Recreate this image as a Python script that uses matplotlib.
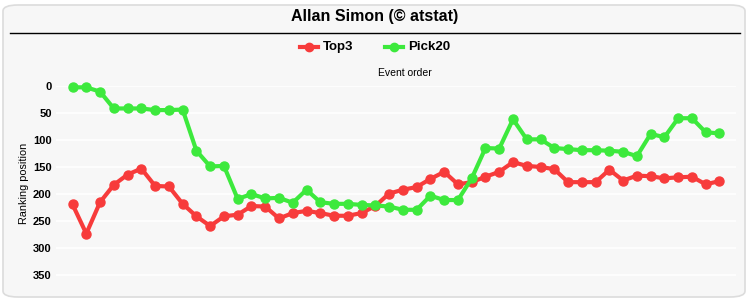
import matplotlib
matplotlib.use("Agg")
import matplotlib.pyplot as plt
from matplotlib.patches import FancyBboxPatch
from matplotlib.lines import Line2D

title = "Allan Simon (© atstat)"
series_names = ["Top3", "Pick20"]
events = list(range(1, 49))
top3 = [219, 273, 215, 183, 164, 153, 185, 186, 218, 241, 259, 241, 238, 222, 223, 245,
        235, 231, 235, 240, 240, 235, 222, 199, 192, 187, 172, 159, 182, 178, 168, 159,
        141, 148, 150, 154, 178, 178, 178, 155, 175, 166, 167, 171, 169, 168, 182, 176]
pick20 = [3, 3, 11, 42, 42, 42, 45, 45, 44, 120, 149, 148, 209, 200, 208, 207,
          216, 192, 215, 218, 218, 220, 221, 223, 229, 229, 203, 211, 211, 171, 115, 116,
          62, 99, 99, 115, 117, 119, 119, 120, 122, 130, 89, 95, 60, 60, 86, 88]
yticks = [0, 50, 100, 150, 200, 250, 300, 350]

RED = "#f73b3b"
GREEN = "#3de93d"
BG = "#f7f7f7"

plt.rcParams['font.family'] = ['Liberation Sans', 'DejaVu Sans']

W, H = 750, 300
fig = plt.figure(figsize=(7.5, 3.0), dpi=100)
fig.patch.set_facecolor("white")

# rounded chart background
box = FancyBboxPatch((3 / W, 3 / H), (W - 8) / W, (H - 8) / H,
                     boxstyle="round,pad=0,rounding_size=0.02",
                     transform=fig.transFigure, facecolor=BG,
                     edgecolor="#dcdcdc", linewidth=1.2, zorder=-10)
fig.patches.append(box)

left, right = 56, 736
top, bottom = 85.7, 290
ax = fig.add_axes([left / W, (H - bottom) / H, (right - left) / W, (bottom - top) / H])
ax.set_zorder(5)
ax.set_facecolor(BG)
for s in ax.spines.values():
    s.set_visible(False)

ax.set_ylim(377, 0)
ax.set_xlim(-1.2, len(events) - 1 + 1.2)
ax.set_yticks(yticks)
ax.set_yticklabels([str(v) for v in yticks], fontsize=8, fontweight="bold")
ax.tick_params(axis="y", length=0, pad=3)
ax.set_xticks([])
ax.grid(axis="y", color="white", linewidth=1.2)
ax.set_axisbelow(True)

xs = list(range(len(events)))
ax.plot(xs, top3, color=RED, linewidth=3, marker="o", markersize=6.5, clip_on=False, zorder=3)
ax.plot(xs, pick20, color=GREEN, linewidth=3, marker="o", markersize=6.5, clip_on=False, zorder=4)

ax.set_ylabel("Ranking position", fontsize=7.8)
ax.yaxis.set_label_coords(-27 / (right - left), 0.52)

# title and separator
fig.text(375 / W, 1 - 16 / H, title, ha="center", va="center", fontsize=11.5, fontweight="bold")
fig.add_artist(Line2D([10 / W, 740 / W], [1 - 32.5 / H, 1 - 32.5 / H], color="black", linewidth=1,
                      transform=fig.transFigure))

# "Event order" axis title
fig.text(405 / W, 1 - 73 / H, "Event order", ha="center", va="center", fontsize=7.5)

# legend
ly = 1 - 47 / H
for (x0, col, name) in [(300, RED, series_names[0]), (385, GREEN, series_names[1])]:
    fig.add_artist(Line2D([x0 / W, (x0 + 18) / W], [ly, ly], color=col, linewidth=3,
                          transform=fig.transFigure))
    fig.add_artist(Line2D([(x0 + 9) / W], [ly], color=col, marker="o", markersize=6,
                          transform=fig.transFigure))
    fig.text((x0 + 23) / W, ly, name, ha="left", va="center", fontsize=9.5, fontweight="bold")

fig.savefig("out.png", dpi=100, facecolor=fig.get_facecolor())
